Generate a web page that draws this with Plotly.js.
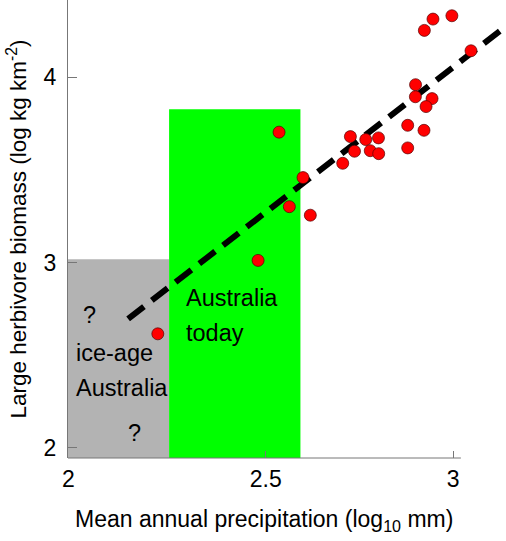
<!DOCTYPE html>
<html>
<head>
<meta charset="utf-8">
<script src="https://cdn.plot.ly/plotly-3.0.1.min.js"></script>
<style>html,body{margin:0;padding:0;background:#fff}#chart{width:506px;height:541px}</style>
</head>
<body>
<div id="chart"></div>
<script>
// Data
const precip = [2.997, 2.9465, 2.9235, 3.048, 2.900, 2.8995, 2.944, 2.928, 2.879, 2.9225, 2.879,
                2.5355, 2.726, 2.767, 2.801, 2.737, 2.779, 2.8016, 2.7055, 2.5995, 2.563, 2.619, 2.4795, 2.2118];
const biomass = [4.332, 4.314, 4.253, 4.143, 3.960, 3.895, 3.885, 3.842, 3.741, 3.714, 3.619,
                 3.704, 3.680, 3.664, 3.673, 3.601, 3.604, 3.588, 3.536, 3.459, 3.302, 3.256, 3.012, 2.616];
const fitX = [2.1325, 3.138];
const fitY = [2.697, 4.270];
// Regions: [x0, x1, yTop]
const iceAgeRegion = [1.972, 2.2419, 3.018];
const todayRegion = [2.2419, 2.5926, 3.827];
const xTickVals = [1.973, 2.5, 3];
const xTickText = ['2', '2.5', '3'];
const yTickVals = [2, 3, 4];
const yTickText = ['2', '3', '4'];
const xAxisSpan = [1.972, 3.021];   // drawn extent of the x axis line
const xRange = [1.972, 3.1388];     // view extends right so the outlier and fit line show
const yRange = [1.946, 4.417];

const font = 'Liberation Sans, Arial, Helvetica, sans-serif';

const traces = [
  {x: fitX, y: fitY, mode: 'lines', type: 'scatter', cliponaxis: false,
   line: {color: '#000', width: 6, dash: '20px,10px'}, hoverinfo: 'skip'},
  {x: precip, y: biomass, mode: 'markers', type: 'scatter', cliponaxis: false,
   marker: {color: '#ff0000', size: 12, line: {color: '#550000', width: 0.7}}}
];

const labelAnn = (x, y, text, xanchor) => ({
  x: x, y: y, xref: 'x', yref: 'y', text: text, showarrow: false,
  xanchor: xanchor, yanchor: 'middle', font: {family: font, size: 23.5, color: '#000'}
});

const layout = {
  width: 506, height: 541,
  margin: {l: 68, r: 1, t: 0, b: 83},
  paper_bgcolor: '#fff', plot_bgcolor: '#fff',
  showlegend: false,
  font: {family: font, color: '#000'},
  xaxis: {
    range: xRange, tickvals: xTickVals, ticktext: xTickText,
    ticks: 'inside', ticklen: 7, tickcolor: '#777', tickwidth: 1,
    showline: false,
    showgrid: false, zeroline: false,
    tickfont: {family: font, size: 23, color: '#000'},
    ticklabelstandoff: 5
  },
  yaxis: {
    range: yRange, tickvals: yTickVals, ticktext: yTickText,
    ticks: 'inside', ticklen: 9, tickcolor: '#777', tickwidth: 1,
    showline: true, linecolor: '#777', linewidth: 1,
    showgrid: false, zeroline: false,
    tickfont: {family: font, size: 23, color: '#000'},
    ticklabelstandoff: 6,
    title: {text: 'Large herbivore biomass (log kg km<sup>-2</sup>)', font: {family: font, size: 22.5, color: '#000'}, standoff: 10}
  },
  shapes: [
    {type: 'rect', layer: 'below', xref: 'x', yref: 'y', x0: iceAgeRegion[0], x1: iceAgeRegion[1], y0: yRange[0], y1: iceAgeRegion[2],
     fillcolor: '#b3b3b3', line: {width: 0}},
    {type: 'rect', layer: 'below', xref: 'x', yref: 'y', x0: todayRegion[0], x1: todayRegion[1], y0: yRange[0], y1: todayRegion[2],
     fillcolor: '#00ff00', line: {width: 0}},
    {type: 'line', layer: 'above', xref: 'x', yref: 'paper', x0: xAxisSpan[0], x1: xAxisSpan[1], y0: 0, y1: 0,
     line: {color: '#777', width: 1}}
  ],
  annotations: [
    labelAnn(2.0303, 2.720, '?', 'center'),
    labelAnn(1.9876, 2.510, 'ice-age', 'left'),
    labelAnn(1.9876, 2.321, 'Australia', 'left'),
    labelAnn(2.1504, 2.079, '?', 'center'),
    labelAnn(2.2804, 2.810, 'Australia', 'left'),
    labelAnn(2.2804, 2.618, 'today', 'left'),
    {x: (xAxisSpan[0] + xAxisSpan[1]) / 2, y: 0, xref: 'x', yref: 'paper', yshift: -62, showarrow: false,
     xanchor: 'center', yanchor: 'middle', text: 'Mean annual precipitation (log<sub>10</sub> mm)',
     font: {family: font, size: 23, color: '#000'}}
  ]
};

Plotly.newPlot('chart', traces, layout, {displayModeBar: false, staticPlot: true});
</script>
</body>
</html>
